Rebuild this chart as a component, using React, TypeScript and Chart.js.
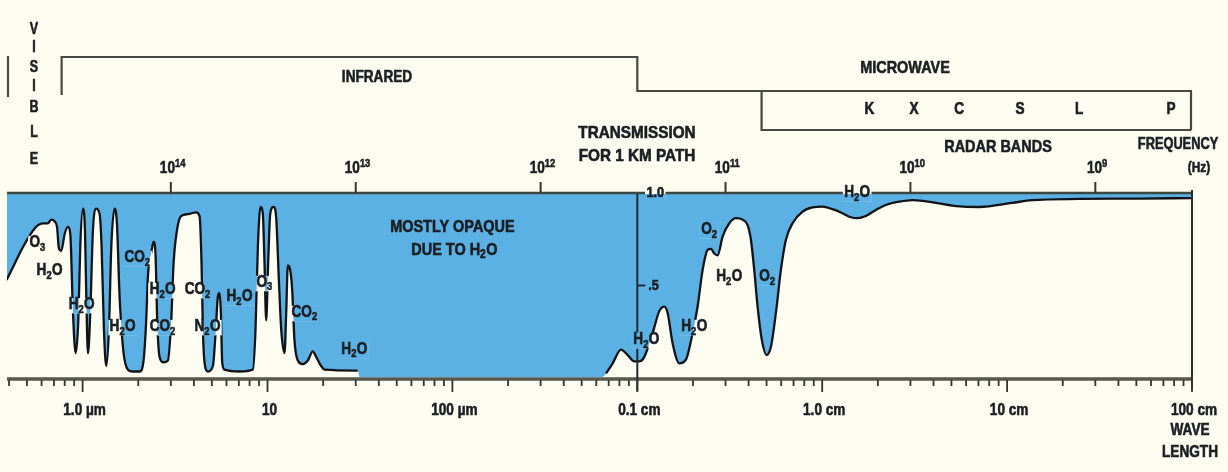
import React, { useEffect, useRef } from "react";
import { Chart, registerables } from "chart.js";

Chart.register(...registerables);

// Wavelength (micrometres) and atmospheric transmission for a 1 km path
const wavelengthUm = [
  0.388, 0.42, 0.476, 0.539, 0.574, 0.61, 0.65, 0.677, 0.706, 0.727, 0.745, 0.767, 0.799, 0.833, 0.858,
  0.887, 0.917, 0.948, 0.971, 1.004, 1.03, 1.047, 1.069, 1.1, 1.137, 1.186, 1.236, 1.267, 1.304, 1.342,
  1.388, 1.429, 1.489, 1.533, 1.585, 1.666, 1.758, 1.871, 2.033, 2.136, 2.208, 2.255, 2.351, 2.42, 2.481,
  2.532, 2.607, 2.741, 2.893, 3.015, 3.104, 3.236, 3.415, 3.71, 4.116, 4.29, 4.398, 4.472, 4.565, 4.76,
  5.066, 5.236, 5.391, 5.504, 5.596, 5.689, 5.857, 7.058, 8.33, 8.612, 8.866, 9.166, 9.436, 9.634, 9.835,
  10.08, 10.34, 10.78, 11.14, 11.52, 11.86, 12.36, 12.62, 12.88, 13.15, 13.59, 13.99, 14.59, 15.52, 16.52,
  17.58, 18.33, 19.5, 20.33, 30.78, 31.5, 650,
  677, 736, 816, 887, 963, 1025, 1091, 1210, 1315, 1399, 1459, 1552, 1687, 1833, 1991, 2119, 2255, 2400,
  2502, 2608, 2718, 2893, 3144, 3415, 3710, 3949, 4116, 4290, 4472, 4720, 5002, 5279, 5617, 5978, 6363,
  6911, 7829, 8866, 10040, 11370, 12880, 14290, 15520, 17220, 19510, 22100, 26080, 30640, 52990, 70600,
  106400, 136400, 245000, 517000, 1000000,
];
const transmission = [
  0.53, 0.6, 0.71, 0.8, 0.83, 0.84, 0.84, 0.86, 0.85, 0.82, 0.7, 0.69, 0.78, 0.82, 0.78,
  0.35, 0.13, 0.31, 0.71, 0.92, 0.8, 0.44, 0.13, 0.35, 0.8, 0.92, 0.89, 0.71, 0.26, 0.06,
  0.26, 0.71, 0.92, 0.84, 0.44, 0.13, 0.04, 0.03, 0.03, 0.09, 0.31, 0.55, 0.68, 0.74, 0.66,
  0.31, 0.11, 0.08, 0.09, 0.31, 0.62, 0.8, 0.88, 0.89, 0.9, 0.88, 0.62, 0.26, 0.08, 0.03,
  0.06, 0.24, 0.44, 0.46, 0.35, 0.08, 0.04, 0.03, 0.04, 0.26, 0.71, 0.93, 0.89, 0.62, 0.31,
  0.62, 0.89, 0.93, 0.87, 0.53, 0.26, 0.13, 0.35, 0.61, 0.6, 0.48, 0.2, 0.09, 0.07, 0.09,
  0.14, 0.11, 0.06, 0.04, 0.035, 0, 0,
  0.02, 0.075, 0.15, 0.12, 0.085, 0.085, 0.11, 0.24, 0.36, 0.385, 0.35, 0.185, 0.075, 0.095, 0.24, 0.385, 0.585, 0.695,
  0.7, 0.675, 0.665, 0.767, 0.84, 0.868, 0.86, 0.83, 0.75, 0.585, 0.385, 0.2, 0.12, 0.165, 0.35, 0.585, 0.75,
  0.84, 0.904, 0.927, 0.931, 0.917, 0.895, 0.873, 0.868, 0.88, 0.913, 0.94, 0.958, 0.967, 0.934, 0.929,
  0.951, 0.967, 0.973, 0.975, 0.978,
];

// Axis labels
const wavelengthTickValues = [1, 10, 100, 1000, 10000, 100000, 1000000];
const wavelengthTickLabels = ["1.0 µm", "10", "100 µm", "0.1 cm", "1.0 cm", "10 cm", "100 cm"];
const frequencyHz = [1e14, 1e13, 1e12, 1e11, 1e10, 1e9];
const frequencyLabels = ["10¹⁴", "10¹³", "10¹²", "10¹¹", "10¹⁰", "10⁹"];

// Radar bands (centre wavelengths, µm)
const radarBands = ["K", "X", "C", "S", "L", "P"];
const radarBandUm = [18000, 31400, 55000, 117500, 245000, 770000];

// Absorber labels: text, wavelength (µm), transmission level
const gasText = [
  "O₃", "H₂O", "H₂O", "H₂O", "CO₂", "H₂O", "CO₂", "CO₂", "N₂O", "H₂O", "O₃", "CO₂", "H₂O",
  "H₂O", "H₂O", "O₂", "H₂O", "O₂", "H₂O",
];
const gasUm = [
  0.571, 0.663, 0.988, 1.645, 1.98, 2.71, 2.71, 4.19, 4.74, 7.06, 9.63, 15.85, 29.5,
  1119, 2033, 2449, 3141, 5044, 15460,
];
const gasT = [
  0.732, 0.579, 0.393, 0.273, 0.65, 0.475, 0.273, 0.475, 0.273, 0.437, 0.514, 0.35, 0.148,
  0.202, 0.273, 0.803, 0.546, 0.546, 1.005,
];

const visibleLetters = ["V", "I", "S", "I", "B", "L", "E"];
const visibleLetterY = [30, 48, 68, 87, 108, 133, 160];

const BG = "#fdfdf2";
const BLUE = "#5cb1e4";
const INK = "#1b1e22";
const FONT = "'Liberation Sans', Arial, sans-serif";

const SUB = "₀₁₂₃₄₅₆₇₈₉";
const SUP = "⁰¹²³⁴⁵⁶⁷⁸⁹";

function splitParts(s: string) {
  const parts: { t: string; k: number }[] = [];
  for (const ch of s) {
    let k = 0;
    let t = ch;
    if (SUB.includes(ch)) { k = -1; t = String(SUB.indexOf(ch)); }
    else if (SUP.includes(ch)) { k = 1; t = String(SUP.indexOf(ch)); }
    const last = parts[parts.length - 1];
    if (last && last.k === k) last.t += t;
    else parts.push({ t, k });
  }
  return parts;
}

const fontFor = (k: number, size: number) => `bold ${k === 0 ? size : Math.round(size * 0.68)}px ${FONT}`;

function measure(ctx: CanvasRenderingContext2D, s: string, size: number) {
  const parts = splitParts(s);
  const widths = parts.map((p) => {
    ctx.font = fontFor(p.k, size);
    return ctx.measureText(p.t).width + (p.k !== 0 ? 0.5 : 0);
  });
  return { parts, widths, total: widths.reduce((a, b) => a + b, 0) };
}

// Draws text; Unicode sub/superscript digits are drawn as smaller shifted digits.
function label(
  ctx: CanvasRenderingContext2D,
  s: string,
  x: number,
  y: number,
  size: number,
  align: CanvasTextAlign = "center",
  sx = 0.85
) {
  ctx.save();
  const { parts, widths, total } = measure(ctx, s, size);
  ctx.fillStyle = INK;
  ctx.strokeStyle = INK;
  ctx.lineWidth = 0.6;
  ctx.textAlign = "left";
  ctx.textBaseline = "middle";
  ctx.translate(x, y);
  ctx.scale(sx, 1);
  let cx = align === "center" ? -total / 2 : align === "right" || align === "end" ? -total : 0;
  parts.forEach((p, i) => {
    ctx.font = fontFor(p.k, size);
    const dy = p.k === -1 ? size * 0.28 : p.k === 1 ? -size * 0.32 : 0;
    ctx.fillText(p.t, cx, dy);
    ctx.strokeText(p.t, cx, dy);
    cx += widths[i];
  });
  ctx.restore();
}

function line(ctx: CanvasRenderingContext2D, pts: number[][], w = 2, color = "#45493f") {
  ctx.save();
  ctx.strokeStyle = color;
  ctx.lineWidth = w;
  ctx.beginPath();
  pts.forEach((p, i) => (i === 0 ? ctx.moveTo(p[0], p[1]) : ctx.lineTo(p[0], p[1])));
  ctx.stroke();
  ctx.restore();
}

const overlay = {
  id: "overlay",
  afterDatasetsDraw(chart: any) {
    const ctx: CanvasRenderingContext2D = chart.ctx;
    const xs = chart.scales.x;
    const ys = chart.scales.y;
    const X = (v: number) => xs.getPixelForValue(v);
    const Y = (v: number) => ys.getPixelForValue(v);
    const { left, right } = chart.chartArea;
    const top = Y(1);
    const bot = Y(0);
    const fillEl = chart.getDatasetMeta(1).dataset;

    // label with a knock-out gap in the lines beneath it
    const gapLabel = (s: string, x: number, y: number, size: number, sx = 0.85) => {
      const w = measure(ctx, s, size).total * sx + 3;
      const y0 = y - size * 0.45;
      const h = size * 0.98;
      ctx.save();
      ctx.beginPath();
      ctx.rect(x - w / 2, y0, w, h);
      ctx.clip();
      ctx.fillStyle = BG;
      ctx.fillRect(x - w / 2, y0, w, h);
      ctx.beginPath();
      ctx.rect(left, top, right - left, bot - top);
      ctx.clip();
      ctx.beginPath();
      fillEl.path(ctx);
      ctx.lineTo(right, top);
      ctx.lineTo(left - 2, top);
      ctx.closePath();
      ctx.fillStyle = BLUE;
      ctx.fill();
      ctx.restore();
      label(ctx, s, x, y, size, "center", sx);
    };

    // frame lines
    line(ctx, [[left, top - 1], [right, top - 1]], 2.6, "#3e4640");
    line(ctx, [[left, bot + 2], [right + 1, bot + 2]], 3.5, "#56584e");
    line(ctx, [[right, top - 4], [right, bot + 12]], 2, "#2c3034");

    // transmission axis at 0.1 cm
    const ax = X(1000);
    line(ctx, [[ax, top], [ax, bot + 14]], 2, "#1f2a36");
    line(ctx, [[ax, Y(0.5)], [ax + 8, Y(0.5)]], 2, "#1f2a36");
    label(ctx, ".5", ax + 11, Y(0.5), 15, "left");
    gapLabel("1.0", ax + 18, top - 1, 15);

    // wavelength ticks
    for (let e = -1; e <= 5; e++) {
      for (let k = 1; k <= 9; k++) {
        const v = k * Math.pow(10, e);
        if (v < xs.min || v > xs.max) continue;
        const px = X(v);
        line(ctx, [[px, bot + 3], [px, bot + (k === 1 ? 15 : 9)]], 1.8, "#33352f");
      }
    }
    line(ctx, [[X(1e6), bot + 3], [X(1e6), bot + 15]], 1.8, "#33352f");
    wavelengthTickValues.forEach((v, i) => label(ctx, wavelengthTickLabels[i], X(v) + 2, bot + 34, 16));
    label(ctx, "WAVE", right - 2, 431, 16);
    label(ctx, "LENGTH", right - 2, 453, 16);

    // frequency ticks
    frequencyHz.forEach((f, i) => {
      const px = X(3e14 / f);
      line(ctx, [[px, top - 12], [px, top - 1]], 2, "#33352f");
      label(ctx, frequencyLabels[i], px + 2, top - 25, 16);
    });
    label(ctx, "FREQUENCY", 1178, 145, 16, "center", 0.8);
    label(ctx, "(Hz)", 1199, 168, 14);

    // spectral region brackets
    const irStart = X(0.77);
    const mw = X(1000);
    const radarStart = X(4700);
    line(ctx, [[irStart, 95], [irStart, 57], [mw, 57], [mw, 91], [right - 1, 91], [right - 1, 130]], 2.2);
    line(ctx, [[radarStart, 91], [radarStart, 130], [right - 1, 130]], 2.2);
    line(ctx, [[8, 56], [8, 97]], 2.2);
    label(ctx, "INFRARED", 377, 78, 16);
    label(ctx, "MICROWAVE", 905, 68, 17);
    radarBands.forEach((b, i) => label(ctx, b, X(radarBandUm[i]), 110, 16));
    label(ctx, "RADAR BANDS", 998, 147, 17);
    label(ctx, "TRANSMISSION", 637, 133, 17, "center", 0.9);
    label(ctx, "FOR 1 KM PATH", 637, 156, 17, "center", 0.9);
    visibleLetters.forEach((c, i) => label(ctx, c, 34, visibleLetterY[i], 16, "center", 0.78));

    // absorber labels
    gasText.forEach((g, i) => gapLabel(g, X(gasUm[i]), Y(gasT[i]), 16));
    label(ctx, "MOSTLY OPAQUE", X(100), Y(0.82), 17);
    label(ctx, "DUE TO H₂O", X(102.5), Y(0.694), 17);
  },
};

export default function App() {
  const ref = useRef<HTMLCanvasElement | null>(null);
  useEffect(() => {
    if (!ref.current) return;
    const fillPoints = wavelengthUm.map((w, i) => ({ x: w, y: transmission[i] }));
    const curvePoints = wavelengthUm.map((w, i) => ({ x: w, y: transmission[i] === 0 ? null : transmission[i] }));
    const chart = new Chart(ref.current, {
      type: "line",
      data: {
        datasets: [
          {
            data: curvePoints,
            borderColor: "#111316",
            borderWidth: 2.3,
            pointRadius: 0,
            fill: false,
            spanGaps: false,
            cubicInterpolationMode: "monotone",
            order: 0,
          } as any,
          {
            data: fillPoints,
            borderWidth: 0,
            borderColor: "rgba(0,0,0,0)",
            pointRadius: 0,
            fill: "end",
            backgroundColor: BLUE,
            cubicInterpolationMode: "monotone",
            order: 1,
          } as any,
        ],
      },
      options: {
        responsive: false,
        animation: false,
        layout: { padding: { left: 7, right: 36, top: 194, bottom: 95 } },
        plugins: { legend: { display: false }, tooltip: { enabled: false } },
        scales: {
          x: { type: "logarithmic", min: 0.39, max: 1000000, display: false },
          y: { type: "linear", min: 0, max: 1, display: false },
        },
      },
      plugins: [overlay],
    });
    return () => chart.destroy();
  }, []);
  return (
    <div style={{ position: "fixed", left: 0, top: 0, width: 1228, height: 472, background: BG }}>
      <canvas ref={ref} width={1228} height={472} style={{ display: "block" }} />
    </div>
  );
}
